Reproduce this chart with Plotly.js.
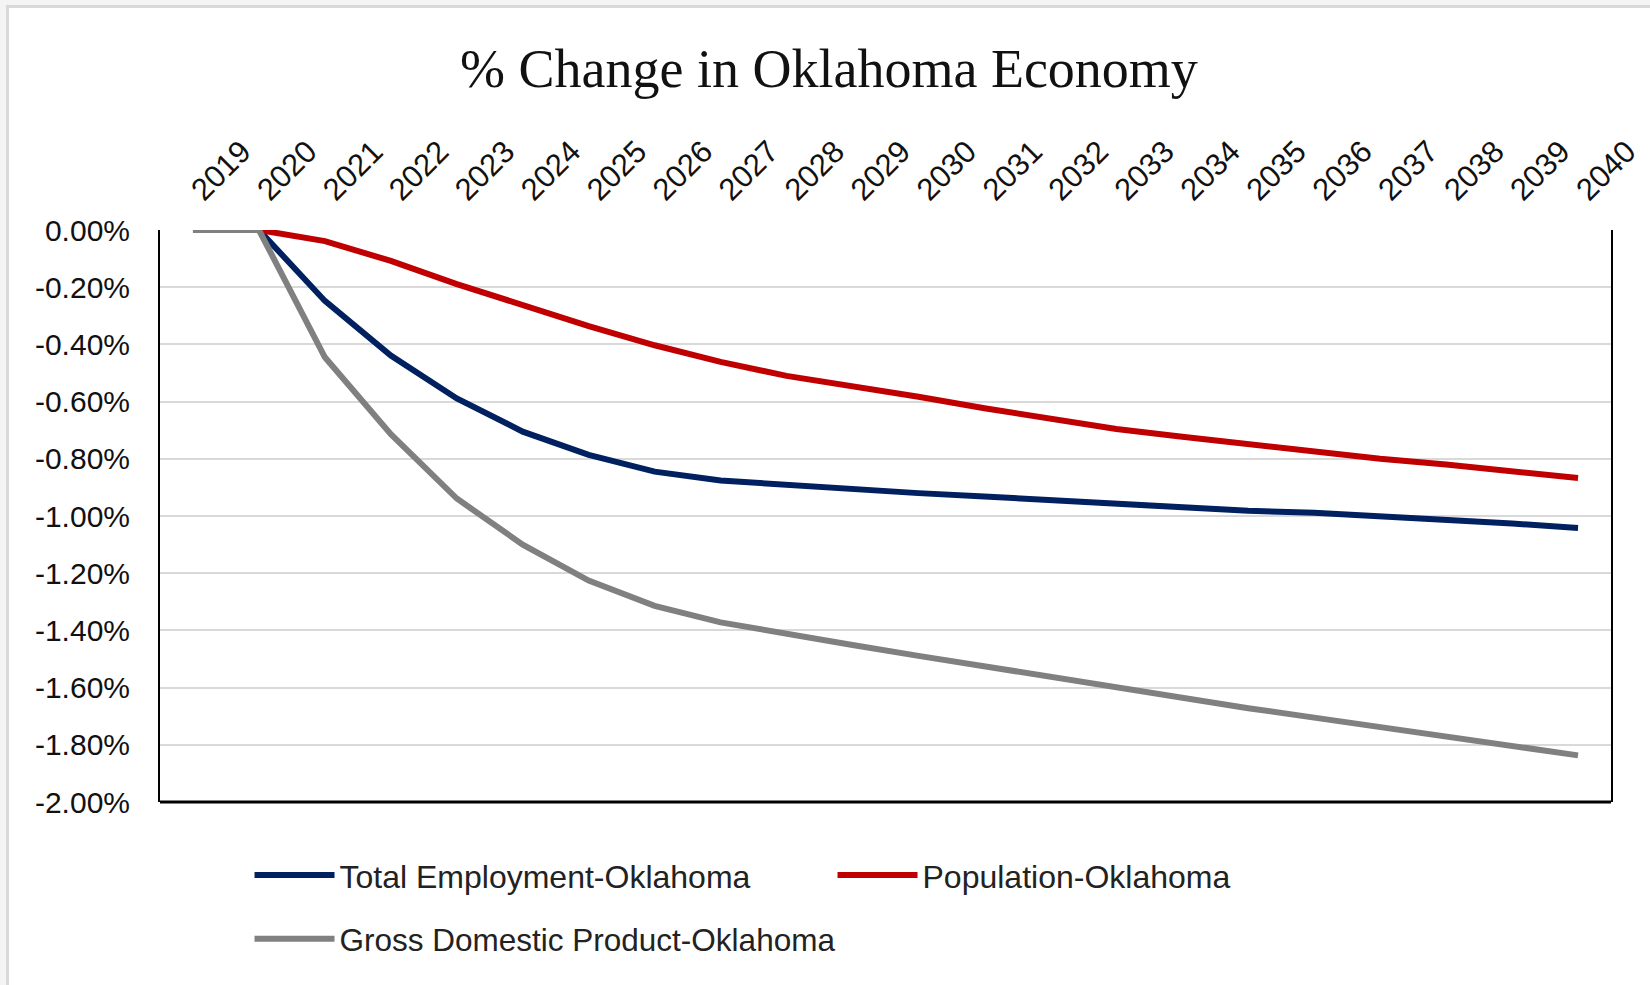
<!DOCTYPE html>
<html>
<head>
<meta charset="utf-8">
<script src="https://cdn.plot.ly/plotly-3.0.1.min.js"></script>
<style>
  html, body { margin: 0; padding: 0; background: #f4f4f4; width: 1650px; height: 985px; overflow: hidden; }
  #frame { position: absolute; left: 6px; top: 5px; width: 1660px; height: 1000px; background: #ffffff; border: 3px solid #d9d9d9; box-sizing: border-box; }
  #chart { position: absolute; left: 0; top: 0; width: 1650px; height: 985px; }
</style>
</head>
<body>
<div id="frame"></div>
<div id="chart"></div>
<script>
// ---- data ----
const years = ["2019","2020","2021","2022","2023","2024","2025","2026","2027","2028","2029",
               "2030","2031","2032","2033","2034","2035","2036","2037","2038","2039","2040"];

const employment = [0, 0, -0.248, -0.439, -0.589, -0.705, -0.786, -0.845, -0.876, -0.892, -0.908,
                    -0.920, -0.932, -0.945, -0.957, -0.970, -0.982, -0.989, -1.000, -1.014, -1.026, -1.042];

const population = [0, 0, -0.039, -0.108, -0.189, -0.265, -0.336, -0.403, -0.461, -0.510, -0.544,
                    -0.583, -0.623, -0.662, -0.696, -0.723, -0.749, -0.775, -0.800, -0.820, -0.842, -0.867];

const gdp = [0, 0, -0.445, -0.714, -0.939, -1.100, -1.226, -1.314, -1.372, -1.414, -1.451,
             -1.489, -1.526, -1.564, -1.600, -1.637, -1.672, -1.705, -1.738, -1.769, -1.800, -1.837];

const seriesNames = ["Total Employment-Oklahoma", "Population-Oklahoma", "Gross Domestic Product-Oklahoma"];

const yTickVals = [0, -0.2, -0.4, -0.6, -0.8, -1.0, -1.2, -1.4, -1.6, -1.8, -2.0];
const yTickText = ["0.00%", "-0.20%", "-0.40%", "-0.60%", "-0.80%", "-1.00%", "-1.20%", "-1.40%", "-1.60%", "-1.80%", "-2.00%"];

const chartTitle = "% Change in Oklahoma Economy";

// ---- chart ----
const sans = "Liberation Sans, Arial, sans-serif";
const serif = "Liberation Serif, Times New Roman, serif";

const traces = [
  { x: years, y: employment, name: seriesNames[0], type: "scatter", mode: "lines",
    line: { color: "#002060", width: 6 }, legend: "legend" },
  { x: years, y: population, name: seriesNames[1], type: "scatter", mode: "lines",
    line: { color: "#C00000", width: 6 }, legend: "legend" },
  { x: years, y: gdp, name: seriesNames[2], type: "scatter", mode: "lines",
    line: { color: "#808080", width: 6 }, legend: "legend2" }
];

const layout = {
  width: 1650, height: 985,
  paper_bgcolor: "rgba(0,0,0,0)",
  plot_bgcolor: "rgba(0,0,0,0)",
  margin: { l: 160, r: 39, t: 230, b: 183 },
  title: {
    text: chartTitle,
    font: { family: serif, size: 54, color: "#111111" },
    xref: "container", x: 0.5024, xanchor: "center",
    yref: "container", y: 1 - 68 / 985, yanchor: "middle"
  },
  showlegend: true,
  legend: {
    orientation: "h", x: 0.0617, y: -0.08, xanchor: "left", yanchor: "top",
    font: { family: sans, size: 32, color: "#222222" },
    itemwidth: 80, entrywidth: 488, entrywidthmode: "pixels",
    bgcolor: "rgba(0,0,0,0)", traceorder: "normal"
  },
  legend2: {
    orientation: "h", x: 0.0617, y: -0.192, xanchor: "left", yanchor: "top",
    font: { family: sans, size: 31.5, color: "#222222" },
    itemwidth: 80,
    bgcolor: "rgba(0,0,0,0)"
  },
  xaxis: {
    type: "category", side: "top", range: [-0.5, 21.5],
    tickangle: -45, showgrid: false, zeroline: false, showline: false,
    ticks: "", ticklabelstandoff: 16,
    tickfont: { family: sans, size: 31, color: "#111111" },
    fixedrange: true
  },
  yaxis: {
    range: [-2, 0], tickvals: yTickVals, ticktext: yTickText,
    showgrid: true, gridcolor: "#D9D9D9", gridwidth: 2,
    zeroline: false, showline: true, linecolor: "#000000", linewidth: 2, mirror: true,
    ticks: "", ticklabelstandoff: 22,
    tickfont: { family: sans, size: 30, color: "#111111" },
    fixedrange: true
  },
  shapes: [
    { type: "line", xref: "paper", yref: "paper", x0: 0, x1: 1, y0: 0, y1: 0,
      line: { color: "#000000", width: 3 } }
  ]
};

Plotly.newPlot("chart", traces, layout, { displayModeBar: false, staticPlot: true });
</script>
</body>
</html>
